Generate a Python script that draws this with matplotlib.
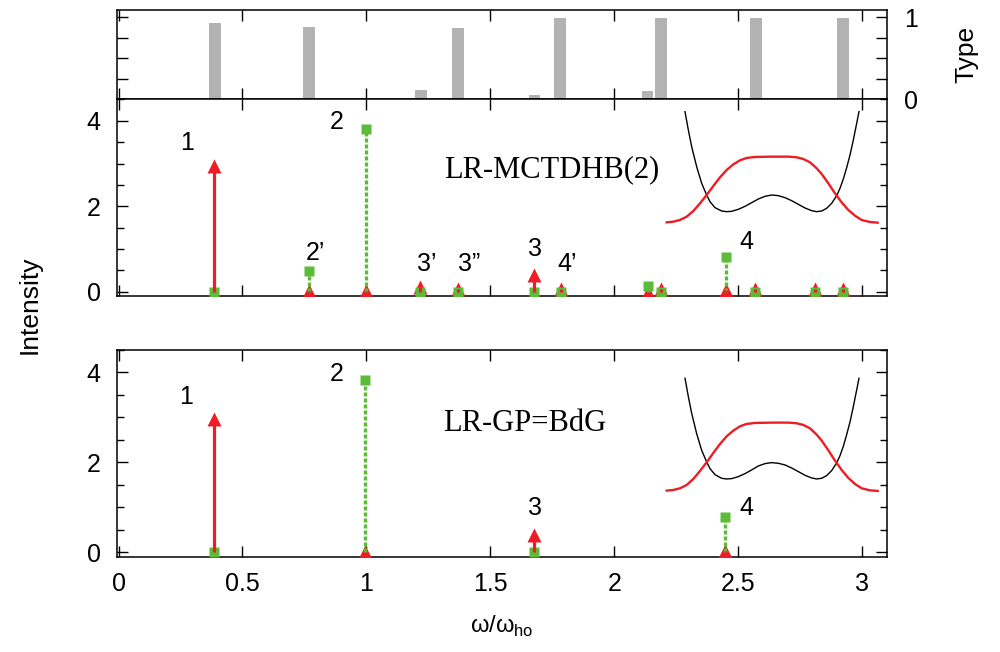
import matplotlib
matplotlib.use('Agg')
import matplotlib.pyplot as plt
from matplotlib.ticker import MultipleLocator, FixedLocator

plt.rcParams['font.family'] = ['Liberation Sans', 'DejaVu Sans']

RED = '#ee1d25'
GREEN = '#5cbc3a'
GRAY = '#b3b3b3'

# top panel: type of each excitation
type_x = [0.39, 0.768, 1.221, 1.37, 1.678, 1.782, 2.134, 2.187, 2.571, 2.924]
type_val = [0.935, 0.886, 0.118, 0.873, 0.053, 0.99, 0.106, 0.99, 0.99, 0.99]

# LR-MCTDHB(2) spectrum
mc_x = [0.387, 0.767, 1.0, 1.218, 1.368, 1.678, 1.783, 2.137, 2.188, 2.449, 2.568, 2.81, 2.923]
mc_red = [2.95, 0.02, 0.02, 0.1, 0.07, 0.4, 0.07, 0.0, 0.07, 0.03, 0.07, 0.07, 0.07]
mc_green = [0.0, 0.48, 3.81, 0.0, 0.0, 0.0, 0.0, 0.13, 0.0, 0.81, 0.0, 0.0, 0.0]
mc_lab = ['1', '2', '2\u2019', '3\u2019', '3\u201d', '3', '4\u2019', '4']
mc_lab_x = [0.275, 0.879, 0.794, 1.244, 1.414, 1.681, 1.808, 2.534]
mc_lab_y = [3.48, 3.97, 0.91, 0.66, 0.66, 0.99, 0.66, 1.16]

# LR-GP=BdG spectrum
gp_x = [0.387, 0.996, 1.675, 2.447]
gp_red = [2.96, 0.01, 0.39, 0.02]
gp_green = [0.0, 3.84, 0.0, 0.79]
gp_lab = ['1', '2', '3', '4']
gp_lab_x = [0.272, 0.879, 1.681, 2.534]
gp_lab_y = [3.45, 3.96, 0.98, 0.98]

# insets: trap potential (black) and density (red)
pot_x = [-3.000, -2.885, -2.770, -2.598, -2.425, -2.253, -2.138, -1.966, -1.736, -1.563,
         -1.391, -1.161, -0.931, -0.701, -0.471, -0.241, -0.011, 0.218, 0.448, 0.678,
         0.908, 1.138, 1.368, 1.540, 1.713, 1.885, 2.057, 2.230, 2.345, 2.460,
         2.575, 2.690, 2.805, 2.920, 3.000]
mc_pot_y = [3.30, 2.75, 2.25, 1.65, 1.15, 0.80, 0.60, 0.42, 0.32, 0.30,
            0.31, 0.37, 0.46, 0.57, 0.68, 0.76, 0.80, 0.78, 0.72, 0.63,
            0.52, 0.41, 0.33, 0.30, 0.32, 0.40, 0.55, 0.78, 1.00, 1.28,
            1.62, 2.00, 2.45, 2.95, 3.30]
gp_pot_y = [3.35, 2.80, 2.30, 1.69, 1.19, 0.84, 0.64, 0.46, 0.35, 0.33,
            0.34, 0.40, 0.49, 0.60, 0.72, 0.79, 0.82, 0.80, 0.75, 0.66,
            0.55, 0.44, 0.36, 0.33, 0.35, 0.43, 0.58, 0.81, 1.03, 1.31,
            1.66, 2.04, 2.50, 3.00, 3.35]

den_x = [-3.632, -3.402, -3.172, -2.943, -2.713, -2.483, -2.253, -2.023, -1.793, -1.563,
         -1.333, -1.103, -0.874, -0.586, -0.011, 0.563, 0.851, 1.080, 1.310, 1.540,
         1.713, 1.943, 2.172, 2.402, 2.632, 2.862, 3.092, 3.379, 3.644]
mc_den_y = [-0.02, 0.00, 0.05, 0.15, 0.32, 0.55, 0.80, 1.07, 1.33, 1.55,
            1.72, 1.84, 1.91, 1.94, 1.95, 1.95, 1.93, 1.88, 1.78, 1.60,
            1.43, 1.15, 0.85, 0.58, 0.35, 0.18, 0.05, -0.01, -0.03]
gp_den_y = [-0.02, 0.00, 0.05, 0.15, 0.33, 0.57, 0.83, 1.11, 1.38, 1.61,
            1.78, 1.91, 1.98, 2.01, 2.02, 2.02, 2.00, 1.95, 1.85, 1.66,
            1.48, 1.19, 0.88, 0.60, 0.36, 0.18, 0.05, -0.01, -0.03]


def frame(ax):
    for s in ax.spines.values():
        s.set_linewidth(1.1)
    ax.tick_params(which='both', direction='in', top=True, right=True,
                   width=1.0, labelsize=18, pad=12)
    ax.tick_params(which='major', length=8)
    ax.tick_params(which='minor', length=5)
    ax.set_xlim(-0.005, 3.1)
    ax.xaxis.set_major_locator(MultipleLocator(0.5))


def spectrum(ax, x, red, green, labels, lx, ly, title, tx):
    frame(ax)
    ax.set_ylim(-0.1, 4.5)
    ax.yaxis.set_major_locator(MultipleLocator(2))
    ax.yaxis.set_minor_locator(MultipleLocator(0.5))
    ax.plot(x, red, '^', color=RED, ms=9.5, mec='none', zorder=3)
    ax.vlines(x, 0, green, colors=GREEN, lw=2.4, linestyles=(0, (1.2, 0.6)), zorder=3.5)
    ax.plot(x, green, 's', color=GREEN, ms=7.2, mec='none', zorder=4)
    ax.vlines(x, 0, red, colors=RED, lw=2.3, zorder=5)
    for t, a, b in zip(labels, lx, ly):
        ax.text(a, b, t, fontsize=18, ha='center', va='center')
    ax.text(tx, 2.86, title, fontsize=22, family='Liberation Serif',
            ha='center', va='center')


def inset(rect, px, py, dx, dy):
    ai = fig.add_axes(rect)
    ai.set_xlim(-3.7, 3.7)
    ai.set_ylim(-0.1, 3.4)
    ai.axis('off')
    ai.patch.set_alpha(0)
    ai.plot(px, py, color='black', lw=1.0)
    ai.plot(dx, dy, color=RED, lw=1.7)


fig = plt.figure(figsize=(10, 6.52), dpi=100)

L, W = 0.1173, 0.7697
ax_t = fig.add_axes([L, 0.8474, W, 0.1373])
ax_m = fig.add_axes([L, 0.5460, W, 0.3014])
ax_b = fig.add_axes([L, 0.1462, W, 0.3170])

# top: type bars
frame(ax_t)
ax_t.bar(type_x, type_val, width=0.048, color=GRAY, zorder=2)
ax_t.set_ylim(0, 1.09)
ax_t.yaxis.set_major_locator(FixedLocator([0, 1]))
ax_t.yaxis.set_minor_locator(FixedLocator([0.25, 0.5, 0.75]))
ax_t.tick_params(axis='y', which='minor', length=8)
ax_t.tick_params(axis='y', labelleft=False, labelright=True)
ax_t.tick_params(axis='x', labelbottom=False)
fig.text(0.9667, 1 - 54 / 652, 'Type', rotation=90, fontsize=19,
         ha='center', va='center')

spectrum(ax_m, mc_x, mc_red, mc_green, mc_lab, mc_lab_x, mc_lab_y, 'LR-MCTDHB(2)', 1.749)
ax_m.tick_params(axis='x', labelbottom=False)
spectrum(ax_b, gp_x, gp_red, gp_green, gp_lab, gp_lab_x, gp_lab_y, 'LR-GP=BdG', 1.64)
ax_b.set_xticks([0, 0.5, 1, 1.5, 2, 2.5, 3])
ax_b.set_xticklabels(['0', '0.5', '1', '1.5', '2', '2.5', '3'])
ax_b.tick_params(axis='x', pad=11)

fig.text(0.03, 1 - 305 / 652, 'Intensity', rotation=90, fontsize=19,
         ha='center', va='center')
fig.text(0.502, 1 - 633 / 652, '\u03c9/\u03c9$_\\mathregular{ho}$', fontsize=17,
         ha='center', va='baseline')

inset([0.6647, 0.6549, 0.2146, 0.179], pot_x, mc_pot_y, den_x, mc_den_y)
inset([0.6647, 0.2434, 0.2146, 0.179], pot_x, gp_pot_y, den_x, gp_den_y)

fig.savefig('out.png', dpi=100)
